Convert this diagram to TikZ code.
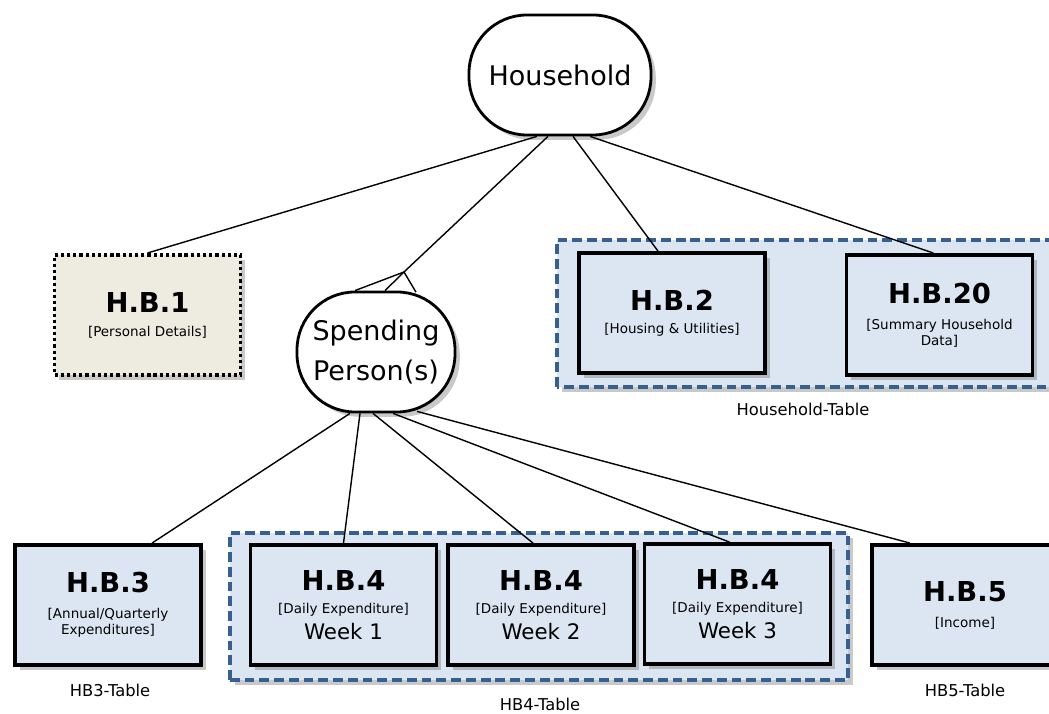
\documentclass[tikz,border=0pt]{standalone}
\usepackage{fontspec}
\setmainfont{DejaVu Sans}
\usepackage{tikz}
\usetikzlibrary{shadows,calc}

\definecolor{boxblue}{HTML}{DCE6F2}
\definecolor{tableline}{HTML}{35608F}
\definecolor{notebeige}{HTML}{EEECE1}

\newcommand{\hbtitle}[1]{{\fontsize{19.5}{22}\selectfont\bfseries #1}}
\newcommand{\hbsub}[1]{{#1}}
\newcommand{\hbweek}[1]{{\fontsize{15.2}{17}\selectfont #1}}

\pgfdeclarelayer{background}
\pgfsetlayers{background,main}

\begin{document}
\begin{tikzpicture}[
		boxshadow/.style={drop shadow={shadow xshift=0.12cm, shadow yshift=-0.12cm, opacity=0.3, fill=black!70}},
		entity/.style={draw, line width=2pt, fill=white, rounded corners=1.45cm, align=center,
			minimum height=3cm, font=\fontsize{19.2}{28}\selectfont, boxshadow},
		hbbox/.style={draw, line width=2.7pt, fill=boxblue, minimum width=4.65cm, minimum height=3cm,
			align=center, font=\fontsize{9.6}{11.5}\selectfont, boxshadow},
		dotbox/.style={hbbox, fill=notebeige, line width=2.8pt, dash pattern=on 2.3pt off 2.1pt},
		tablegroup/.style={draw=tableline, fill=boxblue, line width=2.6pt, dash pattern=on 7pt off 3.5pt, boxshadow},
		tablelabel/.style={font=\fontsize{11.6}{13}\selectfont},
		link/.style={line width=1pt}
	]
		\useasboundingbox (0,0) rectangle (26.225,17.85);
		\clip (0,0) rectangle (26.225,17.85);

		% Household and spending persons
		\node[entity, minimum width=4.55cm] (hh) at (14,15.975) {Household};
		\node[entity, minimum width=3.95cm] (sp) at (9.4,9.05) {Spending\\Person(s)};

		% Household level blocks
		\node[dotbox] (hb1) at (3.6875,9.975) {\hbtitle{H.B.1}\\[5.5pt]\hbsub{[Personal Details]}};
		\node[hbbox] (hb2) at (16.8,10.025) {\hbtitle{H.B.2}\\[4.5pt]\hbsub{[Housing \& Utilities]}};
		\node[hbbox] (hb20) at (23.4875,9.975) {\hbtitle{H.B.20}\\[7pt]\hbsub{[Summary Household}\\\hbsub{Data]}};

		% Person level blocks
		\node[hbbox] (hb3) at (2.7,2.725) {\hbtitle{H.B.3}\\[7pt]\hbsub{[Annual/Quarterly}\\\hbsub{Expenditures]}};
		\node[hbbox] (w1) at (8.5875,2.725) {\hbtitle{H.B.4}\\[5pt]\hbsub{[Daily Expenditure]}\\[4pt]\hbweek{Week 1}};
		\node[hbbox] (w2) at (13.525,2.725) {\hbtitle{H.B.4}\\[5pt]\hbsub{[Daily Expenditure]}\\[4pt]\hbweek{Week 2}};
		\node[hbbox] (w3) at (18.4375,2.75) {\hbtitle{H.B.4}\\[5pt]\hbsub{[Daily Expenditure]}\\[4pt]\hbweek{Week 3}};
		\node[hbbox] (hb5) at (24.125,2.725) {\hbtitle{H.B.5}\\[7pt]\hbsub{[Income]}};

		% Table groups
		\begin{pgfonlayer}{background}
			\draw[tablegroup] (13.925,8.175) rectangle (26.7,11.85);
			\draw[tablegroup] (5.75,0.85) rectangle (21.2,4.525);
		\end{pgfonlayer}
		\node[tablelabel] (hhtab) at (20.075,7.625) {Household-Table};
		\node[tablelabel] (hb3tab) at (2.75,0.6) {HB3-Table};
		\node[tablelabel] (hb4tab) at (13.5,0.24) {HB4-Table};
		\node[tablelabel] (hb5tab) at (24.125,0.6) {HB5-Table};

		% Links from household
		\coordinate (fork) at (10.1,11.05);
		\draw[link] ([xshift=-0.575cm]hh.south) -- (hb1.north);
		\draw[link] ([xshift=-0.3cm]hh.south) -- (fork);
		\draw[link] ([xshift=0.325cm]hh.south) -- ([xshift=-0.35cm]hb2.north);
		\draw[link] ([xshift=0.75cm]hh.south) -- ([xshift=-0.15cm]hb20.north);
		\draw[link] ([xshift=-0.525cm]sp.north) -- (fork) -- ([xshift=1cm,yshift=-0.04cm]sp.north);
		\draw[link] (fork) -- ([xshift=0.225cm]sp.north);

		% Links from spending persons
		\draw[link] ([xshift=-0.65cm]sp.south) -- ([xshift=1.1cm]hb3.north);
		\draw[link] ([xshift=-0.4cm]sp.south) -- (w1.north);
		\draw[link] ([xshift=-0.075cm]sp.south) -- ([xshift=-0.2cm]w2.north);
		\draw[link] ([xshift=0.425cm]sp.south) -- ([xshift=-0.2cm]w3.north);
		\draw[link] ([xshift=1.025cm,yshift=0.05cm]sp.south) -- ([xshift=-1.375cm]hb5.north);
	\end{tikzpicture}
\end{document}
